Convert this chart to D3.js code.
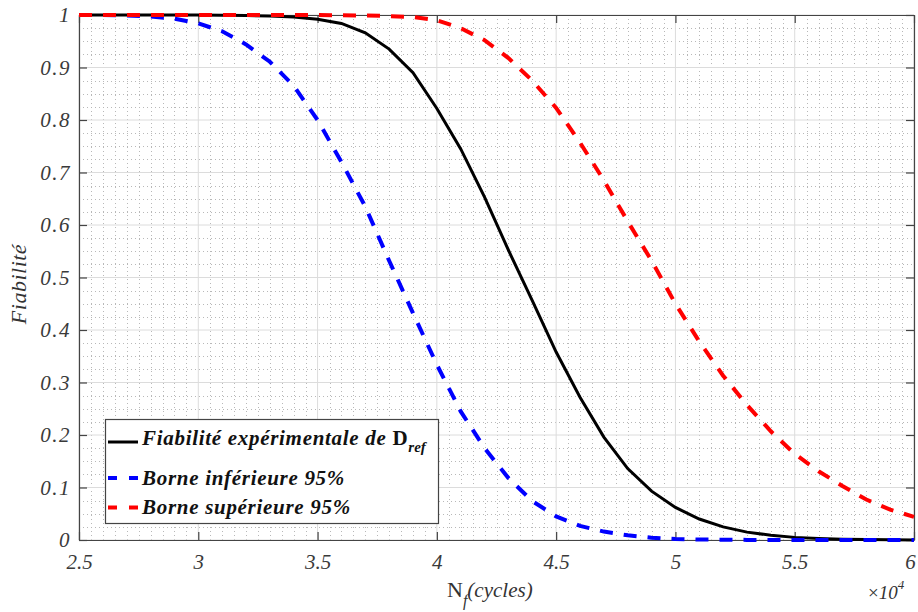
<!DOCTYPE html>
<html>
<head>
<meta charset="utf-8">
<style>
  body { margin: 0; background: #fff; }
  text { font-family: "Liberation Serif", "DejaVu Serif", serif; font-style: italic; }
</style>
</head>
<body>
<div id="chart"></div>
<script src="https://d3js.org/d3.v7.min.js"></script>
<script>
// nombre de cycles (Nf)
const cycles = [25000, 26000, 27000, 28000, 29000, 30000, 31000, 32000, 33000, 34000,
                35000, 36000, 37000, 38000, 39000, 40000, 41000, 42000, 43000, 44000,
                45000, 46000, 47000, 48000, 49000, 50000, 51000, 52000, 53000, 54000,
                55000, 56000, 57000, 58000, 59000, 60000];

// fiabilité expérimentale de D_ref
const fiabExp = [1, 1, 1, 1, 0.9999, 0.9998, 0.9995, 0.999, 0.998, 0.996,
                 0.992, 0.984, 0.966, 0.935, 0.89, 0.822, 0.745, 0.653, 0.552, 0.456,
                 0.358, 0.272, 0.196, 0.136, 0.093, 0.062, 0.04, 0.025, 0.015, 0.009,
                 0.005, 0.003, 0.0015, 0.0008, 0.0004, 0.0002];

// borne inférieure 95%
const borneInf = [1, 0.9998, 0.999, 0.997, 0.993, 0.984, 0.969, 0.944, 0.911, 0.865,
                  0.80, 0.72, 0.635, 0.532, 0.432, 0.334, 0.245, 0.175, 0.118, 0.074,
                  0.045, 0.027, 0.016, 0.009, 0.0045, 0.002, 0.001, 0.0005, 0.0002, 0.0001,
                  0, 0, 0, 0, 0, 0];

// borne supérieure 95%
const borneSup = [1, 1, 1, 1, 1, 1, 1, 1, 1, 0.9999,
                  0.9998, 0.9995, 0.999, 0.998, 0.996, 0.99, 0.975, 0.952, 0.918, 0.875,
                  0.823, 0.757, 0.685, 0.607, 0.532, 0.45, 0.378, 0.313, 0.257, 0.207,
                  0.164, 0.131, 0.103, 0.077, 0.058, 0.044];

const xTicks = [25000, 30000, 35000, 40000, 45000, 50000, 55000, 60000];
const yTicks = [0, 0.1, 0.2, 0.3, 0.4, 0.5, 0.6, 0.7, 0.8, 0.9, 1];

const series = [
  { name: "Fiabilité expérimentale de ", sub: "ref", values: fiabExp, color: "#000", dash: null },
  { name: "Borne inférieure 95%", values: borneInf, color: "#0000ff", dash: "13,11" },
  { name: "Borne supérieure 95%", values: borneSup, color: "#ff0000", dash: "13,11" }
];

const width = 918, height = 612;
const margin = { top: 15, right: 4, bottom: 72, left: 79 };

const svg = d3.select("#chart").append("svg")
  .attr("width", width)
  .attr("height", height);

const x = d3.scaleLinear().domain([25000, 60000]).range([margin.left, width - margin.right]);
const y = d3.scaleLinear().domain([0, 1]).range([height - margin.bottom, margin.top]);

const x0 = x.range()[0], x1 = x.range()[1];
const y0 = y.range()[0], y1 = y.range()[1];

// grille mineure (pointillés)
const xMinor = d3.range(25000, 60001, 500).filter(v => v % 5000 !== 0);
const yMinor = d3.range(0, 41).map(i => i * 0.025).filter((v, i) => i % 4 !== 0);

const grid = svg.append("g");
grid.selectAll(".xm").data(xMinor).join("line")
  .attr("x1", d => Math.round(x(d)) + 0.5).attr("x2", d => Math.round(x(d)) + 0.5)
  .attr("y1", y1).attr("y2", y0)
  .attr("stroke", "#b8b8b8").attr("stroke-width", 1).attr("stroke-dasharray", "1,3");
grid.selectAll(".ym").data(yMinor).join("line")
  .attr("y1", d => Math.round(y(d)) + 0.5).attr("y2", d => Math.round(y(d)) + 0.5)
  .attr("x1", x0).attr("x2", x1)
  .attr("stroke", "#b8b8b8").attr("stroke-width", 1).attr("stroke-dasharray", "1,3");

// grille majeure
grid.selectAll(".xg").data(xTicks).join("line")
  .attr("x1", d => x(d)).attr("x2", d => x(d))
  .attr("y1", y1).attr("y2", y0)
  .attr("stroke", "#dcdcdc").attr("stroke-width", 1);
grid.selectAll(".yg").data(yTicks).join("line")
  .attr("y1", d => y(d)).attr("y2", d => y(d))
  .attr("x1", x0).attr("x2", x1)
  .attr("stroke", "#dcdcdc").attr("stroke-width", 1);

// axes (boite)
const axisColor = "#444";
const fmtX = d => d3.format("")(d / 10000);
const fmtY = d => d === 0 ? "0" : d === 1 ? "1" : d3.format(".1f")(d);

const tickText = ls => g => g.selectAll("text")
  .style("font-size", "21px").style("fill", "#3a3a3a")
  .style("font-family", "'Liberation Serif', serif").style("font-style", "italic")
  .style("letter-spacing", ls);

svg.append("g")
  .attr("transform", `translate(0,${y0})`)
  .call(d3.axisBottom(x).tickValues(xTicks).tickFormat(fmtX).tickSizeInner(-8).tickSizeOuter(0).tickPadding(14))
  .call(tickText("0px"))
  .call(g => g.selectAll("text").filter(d => d === 60000).attr("dx", -4));
svg.append("g")
  .attr("transform", `translate(0,${y1})`)
  .call(d3.axisTop(x).tickValues(xTicks).tickFormat("").tickSizeInner(-8).tickSizeOuter(0));
svg.append("g")
  .attr("transform", `translate(${x0},0)`)
  .call(d3.axisLeft(y).tickValues(yTicks).tickFormat(fmtY).tickSizeInner(-8).tickSizeOuter(0).tickPadding(8))
  .call(tickText("1.5px"));
svg.append("g")
  .attr("transform", `translate(${x1},0)`)
  .call(d3.axisRight(y).tickValues(yTicks).tickFormat("").tickSizeInner(-8).tickSizeOuter(0));

svg.selectAll(".domain, .tick line").attr("stroke", axisColor).attr("stroke-width", 1.2);

// courbes
const line = d3.line()
  .x((d, i) => x(cycles[i]))
  .y(d => y(d));

series.forEach(s => {
  svg.append("path")
    .datum(s.values)
    .attr("fill", "none")
    .attr("stroke", s.color)
    .attr("stroke-width", s.dash ? 4 : 3)
    .attr("stroke-dasharray", s.dash)
    .attr("d", line);
});

// légende
const legend = svg.append("g");
legend.append("rect")
  .attr("x", 105.5).attr("y", 419.5).attr("width", 333).attr("height", 104)
  .attr("fill", "#fff").attr("stroke", "#444").attr("stroke-width", 1.2);

const legY = [442, 478, 507.5];
const legBase = [444.5, 485, 513.5];
series.forEach((s, i) => {
  legend.append("line")
    .attr("x1", 108).attr("x2", 138)
    .attr("y1", legY[i]).attr("y2", legY[i])
    .attr("stroke", s.color)
    .attr("stroke-width", s.dash ? 4 : 3)
    .attr("stroke-dasharray", s.dash ? "9,12" : null);
  const t = legend.append("text")
    .attr("x", 142).attr("y", legBase[i])
    .attr("font-size", 21).attr("font-weight", "bold").attr("fill", "#111")
    .attr("letter-spacing", 0.7);
  t.append("tspan").text(s.name);
  if (s.sub) {
    t.append("tspan").attr("font-style", "normal").text("D");
    t.append("tspan").attr("dy", 7).attr("font-size", 15).attr("letter-spacing", 0).text(s.sub);
  }
});

// titres d'axes
const xl = svg.append("text")
  .attr("x", 447).attr("y", 597)
  .attr("font-size", 22).attr("fill", "#333");
xl.append("tspan").attr("font-style", "normal").text("N");
xl.append("tspan").attr("dy", 9).attr("font-size", 16).text("f");
xl.append("tspan").attr("dy", -9).attr("font-size", 21).text("(cycles)");

svg.append("text")
  .attr("transform", "translate(26,284) rotate(-90)")
  .attr("text-anchor", "middle")
  .attr("font-size", 22).attr("fill", "#333")
  .attr("letter-spacing", 0.5)
  .text("Fiabilité");

const ex = svg.append("text")
  .attr("x", 868).attr("y", 599)
  .attr("font-size", 19).attr("fill", "#333");
ex.append("tspan").attr("font-style", "normal").text("×");
ex.append("tspan").text("10");
ex.append("tspan").attr("dy", -10).attr("font-size", 13).text("4");
</script>
</body>
</html>
